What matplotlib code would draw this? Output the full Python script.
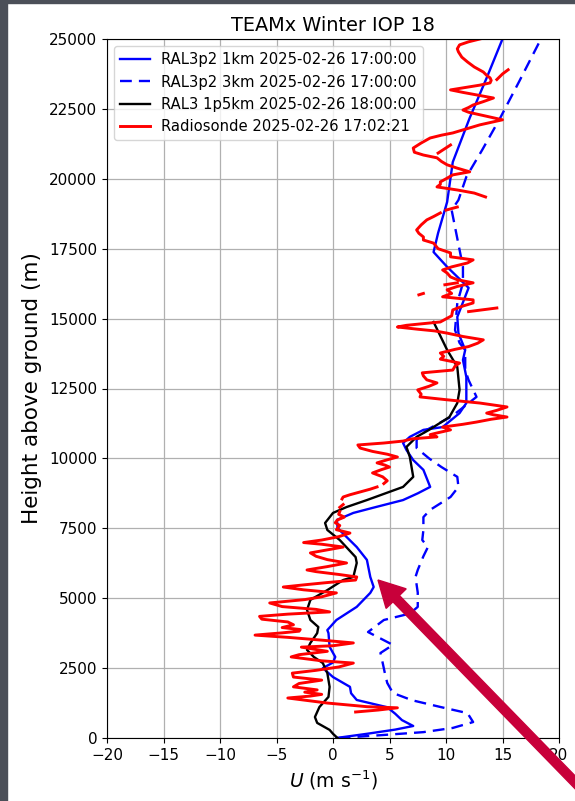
import numpy as np
import matplotlib
matplotlib.use("Agg")
import matplotlib.pyplot as plt
from matplotlib.patches import FancyArrow, Rectangle
from matplotlib.transforms import IdentityTransform

nan = np.nan

# RAL3p2 1km (height m, U m/s)
h_1km = [0, 150, 300, 430, 640, 870, 1100, 1360, 1600, 1830, 2180, 2500, 2700, 2900,
         3260, 3750, 3860, 4220, 4690, 5190, 5400, 5760, 6370, 6830, 7190, 7510, 7800,
         8050, 8230, 8510, 8750, 8980, 9590, 9940, 10300, 10550, 10770, 11020, 11120,
         11620, 11980, 12910, 13520, 13880, 14480, 15060, 16100, 16850, 17380, 18060,
         19170, 20600, 22180, 23610, 25000]
u_1km = [0.3, 3.0, 5.5, 7.1, 6.1, 5.5, 4.8, 2.1, 1.6, 1.5, 0.0, -0.9, 0.0, 0.2,
         -0.3, -0.4, -0.5, 0.3, 2.1, 3.3, 3.6, 3.3, 3.0, 2.1, 1.2, 0.4, 0.35,
         1.8, 3.5, 6.2, 7.5, 8.6, 8.0, 7.1, 6.5, 6.2, 6.8, 8.0, 9.7,
         11.2, 11.8, 11.8, 11.5, 11.7, 11.1, 11.0, 12.0, 10.1, 8.9, 9.3,
         10.1, 10.6, 12.1, 13.6, 15.0]

# RAL3p2 3km
h_3km = [0, 100, 210, 360, 570, 890, 1110, 1350, 1610, 1970, 2300, 2680, 3040, 3330,
         3790, 4220, 4450, 4690, 5200, 5760, 6010, 6500, 6830, 7080, 7440, 7900, 8160,
         8620, 8980, 9340, 9690, 10000, 10370, 10660, 11020, 11500, 12200, 12800, 13160,
         13880, 14130, 14590, 15560, 16280, 16850, 17460, 18880, 19240, 20070, 21030,
         22180, 23500, 25000]
u_3km = [0.5, 4.2, 8.0, 10.6, 12.4, 11.9, 9.5, 7.0, 5.3, 4.8, 4.6, 4.4, 4.2, 5.3,
         3.1, 4.5, 6.8, 7.5, 7.5, 7.3, 7.5, 8.0, 8.4, 7.9, 8.0, 8.0, 8.6,
         10.4, 11.1, 11.0, 9.6, 8.5, 7.4, 7.4, 8.3, 10.5, 12.7, 12.0, 11.7,
         11.7, 11.2, 10.8, 11.0, 11.5, 11.5, 11.2, 10.5, 11.1, 11.8, 13.2,
         14.8, 16.5, 18.4]

# RAL3 1p5km
h_1p5 = [0, 150, 290, 540, 750, 1110, 1470, 1830, 2320, 2680, 2900, 3150, 3400, 3750,
         3970, 4220, 4580, 4940, 5290, 5650, 5760, 6260, 6470, 7080, 7440, 7690, 8050,
         8260, 8510, 8980, 9340, 10050, 10410, 10770, 11020, 11480, 11980, 12450, 13270,
         13880, 14880]
u_1p5 = [0.4, 0.0, -0.3, -1.4, -1.6, -1.2, -0.4, -0.3, -0.5, -0.9, -1.7, -2.3, -2.0, -1.4,
         -1.3, -2.0, -2.3, -2.0, -0.5, 0.9, 1.8, 2.1, 2.0, 0.6, -0.5, -0.7, 0.0,
         1.2, 3.0, 6.2, 7.1, 6.8, 6.5, 7.4, 8.5, 10.3, 11.0, 11.2, 11.0,
         10.1, 8.9]

# Radiosonde (nan = gap in record)
h_sonde = [930, 1000, 1080, 1120, 1250, 1430, 1500, 1560, 1640, 1720, 1830, 1950, 2070,
           2180, 2320, 2420, 2540, 2680, 2760, 2900, 2980, 3100, 3250, 3300, 3400, 3500,
           3600, 3680, 3760, 3820, 3880, 3950, 4050, 4150, 4250, 4350, 4430, 4510, 4600,
           4700, 4830, 4950, 5050, 5190, 5300, 5400, 5480, 5560, 5650, 5760, 5850, 5950,
           6010, 6130, 6260, 6380, 6500, 6620, 6730, 6830, 6930, 6990, 7080, 7200, 7330,
           7450, 7600, 7700, 7800, 7900, 8000, 8100, nan, 8250, 8350, nan, 8550, 8620,
           8700, 8800, 8900, 8980, nan, 9100, 9200, 9340, 9480, 9600, 9690, 9760, 9840,
           9950, 10050, 10150, 10250, 10370, 10480, 10550, 10620, 10700, 10770, 10850,
           10910, 11020, 11120, 11220, 11300, 11400, 11480, 11560, 11620, 11720, 11840,
           11920, 11980, 12100, 12200, 12300, 12450, 12580, 12700, 12810, 12950, 13060,
           13160, 13300, 13410, 13550, 13650, 13770, 13900, 14000, 14120, 14240, 14360,
           14480, 14560, 14620, 14700, 14760, 14800, 14880, 15100, 15310, 15450, 15560,
           15670, 15780, 15900, 16030, 16150, 16280, 16390, 16490, 16630, 16740, 16850,
           16990, 17100, 17210, 17350, 17500, 17700, 17810, 17920, 18050, 18170, 18350,
           18530, 18650, 18780, nan, 18880, 18990, nan, 19350, 19490, 19600, 19710, 19800,
           19890, 20000, 20140, 20250, 20380, 20500, 20620, 20750, 20850, 20950, 21100,
           21280, 21460, 21560, 21640, 21750, 21850, 21930, 22020, 22110, 22200, 22290,
           22380, 22460, 22550, 22640, 22760, 22890, 23000, 23090, 23180, 23290, 23350,
           23430, 23520, 23610, 23700, 23820, 24000, 24180, 24350, 24540, 24650, 24790,
           24900, 24970, 25100,
           nan, 15250, 15330, 15380, nan, 15850, 15900, nan, 16210, 16280,
           nan, 20920, 21210, nan, 23550, 23750, 23900]
u_sonde = [2.0, 4.0, 5.7, 3.0, -0.5, -4.0, -2.0, -1.0, -2.5, -1.4, -3.5, -3.0, -1.0,
           -3.5, -3.6, -1.5, 0.5, 1.8, -1.0, -3.7, -3.0, -0.5, -2.8, 0.0, 1.8, -1.0,
           -4.0, -6.9, -4.5, -3.0, -2.9, -4.5, -3.5, -4.0, -6.3, -6.5, -4.0, -0.3, -1.5,
           -4.5, -5.6, -2.5, -1.0, 0.3, -2.6, -4.4, -2.5, -0.5, 2.0, 2.1, 0.5, -1.5,
           -2.3, -0.5, 1.2, -0.5, -1.5, -2.0, -0.5, 0.9, -1.0, -2.6, -1.0, 0.5, 1.5,
           0.3, 0.6, 0.2, 0.4, 1.0, 0.5, 0.6, nan, 0.6, 0.9, nan, 0.8, 0.9,
           1.5, 2.4, 3.3, 3.9, nan, 4.5, 4.8, 4.4, 3.5, 4.3, 5.0, 4.6, 3.9,
           4.8, 5.7, 4.8, 3.5, 2.4, 2.2, 4.5, 6.2, 7.0, 9.2, 8.6,
           9.2, 10.4, 9.7, 11.5, 12.7, 14.0, 15.4, 14.2, 13.6, 14.5, 15.4,
           14.0, 13.0, 10.0, 7.7, 7.8, 7.5, 8.5, 9.2, 8.3, 8.0, 7.9,
           10.6, 10.8, 11.2, 9.5, 9.8, 9.5, 10.8, 12.0, 12.8, 13.3, 11.5,
           10.1, 9.0, 7.5, 5.7, 6.5, 7.5, 9.5, 10.5, 10.6, 11.5, 12.4,
           12.4, 9.7, 10.5, 10.1, 11.0, 12.4, 11.0, 10.4, 10.1, 9.7, 10.5,
           11.9, 12.4, 10.4, 10.4, 9.3, 8.9, 8.0, 8.0, 7.6, 7.4, 7.8,
           8.3, 8.9, 9.5, nan, 10.0, 11.0, nan, 13.5, 12.5, 11.0, 9.2, 9.5,
           9.5, 10.0, 10.6, 12.1, 11.0, 10.1, 9.6, 9.2, 8.0, 7.2, 7.1,
           7.8, 8.6, 9.6, 10.6, 11.5, 12.3, 13.0, 14.0, 15.0, 14.0, 13.0,
           12.0, 11.5, 12.0, 12.4, 13.3, 14.2, 12.7, 11.5, 10.4, 12.1, 13.0,
           13.9, 14.0, 13.9, 13.6, 13.3, 12.5, 11.9, 11.4, 11.1, 11.0, 11.2,
           12.0, 12.7, 14.0,
           nan, 12.0, 13.5, 14.5, nan, 7.6, 8.0, nan, 9.9, 11.0,
           nan, 9.3, 10.4, nan, 14.5, 15.0, 15.5]

labels = ["RAL3p2 1km 2025-02-26 17:00:00",
          "RAL3p2 3km 2025-02-26 17:00:00",
          "RAL3 1p5km 2025-02-26 18:00:00",
          "Radiosonde 2025-02-26 17:02:21"]

fig = plt.figure(figsize=(5.75, 8.01), dpi=100)
ax = fig.add_axes([107/575, 1-738/801, (559-107)/575, (738-39)/801])

ax.plot(u_1km, h_1km, color="blue", lw=1.7, label=labels[0])
ax.plot(u_3km, h_3km, color="blue", lw=1.7, dashes=(5, 3), label=labels[1])
ax.plot(u_1p5, h_1p5, color="black", lw=1.7, label=labels[2])
ax.plot(u_sonde, h_sonde, color="red", lw=2.1, label=labels[3])

ax.set_xlim(-20, 20)
ax.set_ylim(0, 25000)
ax.set_xticks(np.arange(-20, 21, 5))
ax.set_yticks(np.arange(0, 25001, 2500))
ax.tick_params(labelsize=11)
ax.grid(True, color="#b0b0b0", lw=0.9)
ax.set_axisbelow(True)
ax.set_title("TEAMx Winter IOP 18", fontsize=13.9)
ax.set_xlabel(r"$U$ (m s$^{-1}$)", fontsize=13.5)
ax.set_ylabel("Height above ground (m)", fontsize=15.5, labelpad=5)
ax.legend(loc="upper left", fontsize=10.6)

# screenshot frame and red pointer arrow
fig.add_artist(Rectangle((0, 0), 7/575, 1, transform=fig.transFigure,
                         color="#4b4f58", zorder=10))
fig.add_artist(Rectangle((0, 1-3/801), 1, 3/801, transform=fig.transFigure,
                         color="#4b4f58", zorder=10))
fig.add_artist(FancyArrow(605, -12, 378-605, 221+12, width=9, head_width=28,
                          head_length=26, length_includes_head=True,
                          color="#c8003a", transform=IdentityTransform(), zorder=11))

fig.savefig("out.png", dpi=100)
